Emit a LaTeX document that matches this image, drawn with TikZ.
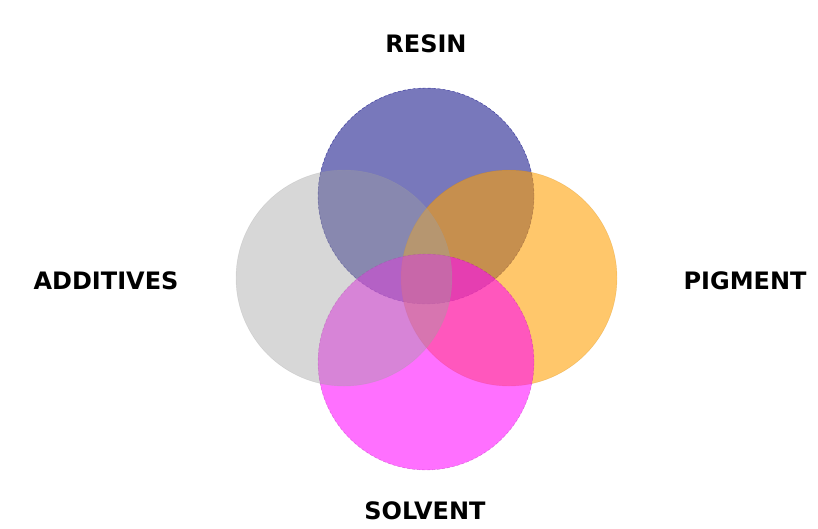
\documentclass[tikz,border=0pt]{standalone}
\usepackage{fontspec}
\setmainfont{DejaVu Sans}
\definecolor{cblue}{RGB}{0,0,128}
\definecolor{corange}{RGB}{255,160,0}
\definecolor{cmag}{RGB}{255,0,255}
\definecolor{cgray}{RGB}{160,160,160}
\begin{document}
\begin{tikzpicture}[x=1pt,y=-1pt,
  venn/.style={circle,minimum size=216pt,inner sep=0pt},
  lbl/.style={font=\fontsize{24}{24}\selectfont\bfseries,inner sep=0pt,text=black}]
\useasboundingbox[fill=white] (0,0) rectangle (818,528);
\node[venn,fill=cblue,fill opacity=0.53,draw=cblue,draw opacity=0.7,densely dashed] (res) at (426,196) {};
\node[venn,fill=corange,fill opacity=0.58,draw=corange!80!black,draw opacity=0.3] (pig) at (509,278) {};
\node[venn,fill=cmag,fill opacity=0.56,draw=cmag!60!black,draw opacity=0.4,densely dashed] (sol) at (426,362) {};
\node[venn,fill=cgray,fill opacity=0.42,draw=cgray,draw opacity=0.3] (add) at (344,278) {};
\node[lbl] (tres) at (426,44) {RESIN};
\node[lbl] (tadd) at (106,281) {ADDITIVES};
\node[lbl] (tpig) at (745,281) {PIGMENT};
\node[lbl] (tsol) at (425,511) {SOLVENT};
\end{tikzpicture}
\end{document}
